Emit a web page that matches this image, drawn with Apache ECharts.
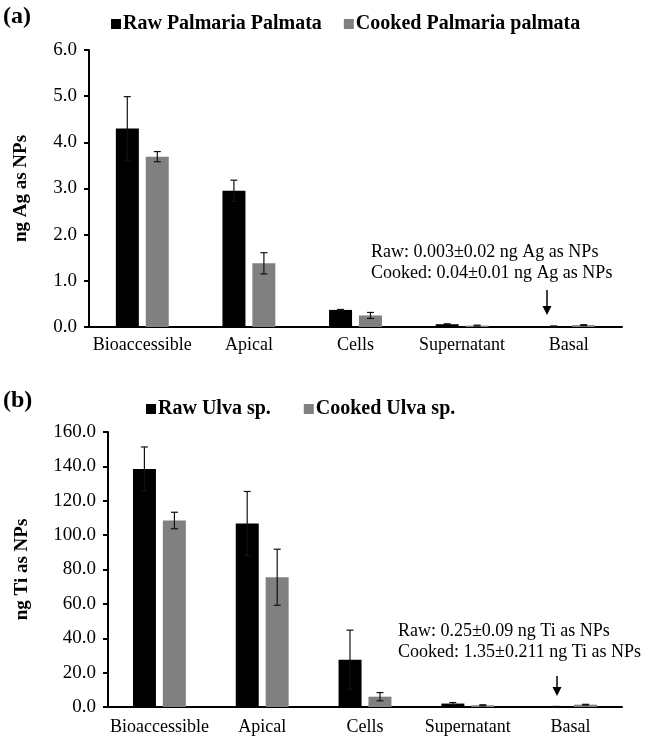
<!DOCTYPE html>
<html>
<head>
<meta charset="utf-8">
<script src="https://cdn.jsdelivr.net/npm/echarts@6/dist/echarts.min.js"></script>
<style>
  html, body { margin: 0; padding: 0; background: #fff; }
  #chart { width: 649px; height: 740px; }
</style>
</head>
<body>
<div id="chart"></div>
<script>
// categories shared by both panels
const categories = ['Bioaccessible', 'Apical', 'Cells', 'Supernatant', 'Basal'];

// panel (a) - Ag NPs
const agRaw = [4.30, 2.95, 0.37, 0.06, 0.003];
const agRawErr = [0.69, 0.23, 0.01, 0.01, 0.02];
const agCooked = [3.69, 1.38, 0.25, 0.03, 0.04];
const agCookedErr = [0.11, 0.23, 0.065, 0.01, 0.01];
const agTicks = { min: 0, max: 6, interval: 1 };

// panel (b) - Ti NPs
const tiRaw = [138.5, 106.8, 27.5, 2.0, 0.25];
const tiRawErr = [12.8, 18.6, 17.2, 0.6, 0.09];
const tiCooked = [108.5, 75.5, 6.0, 1.0, 1.35];
const tiCookedErr = [4.8, 16.3, 2.4, 0.3, 0.211];
const tiTicks = { min: 0, max: 160, interval: 20 };

const FONT = '"Liberation Serif", "Times New Roman", serif';
const RAW = '#000000';
const COOKED = '#808080';
const BAR_W = 23;
const SHIFT = 15; // half of bar width + half gap

const chart = echarts.init(document.getElementById('chart'));

// error bars: data [index, value, err]
function errorSeries(name, vals, errs, axisIdx, offset) {
  return {
    name: name,
    type: 'custom',
    xAxisIndex: axisIdx,
    yAxisIndex: axisIdx,
    z: 5,
    silent: true,
    data: vals.map((v, i) => [i, v, errs[i]]),
    encode: { x: 0, y: 1 },
    renderItem: function (params, api) {
      const i = api.value(0);
      const v = api.value(1);
      const e = api.value(2);
      const top = api.coord([i, v + e]);
      const bot = api.coord([i, Math.max(0, v - e)]);
      const x = top[0] + offset;
      const st = { stroke: '#111', lineWidth: 1.2 };
      return {
        type: 'group',
        children: [
          { type: 'line', shape: { x1: x, y1: top[1], x2: x, y2: bot[1] }, style: st },
          { type: 'line', shape: { x1: x - 3.5, y1: top[1], x2: x + 3.5, y2: top[1] }, style: st },
          { type: 'line', shape: { x1: x - 3.5, y1: bot[1], x2: x + 3.5, y2: bot[1] }, style: st }
        ]
      };
    }
  };
}

function barSeries(name, vals, color, axisIdx) {
  return {
    name: name,
    type: 'bar',
    xAxisIndex: axisIdx,
    yAxisIndex: axisIdx,
    barWidth: BAR_W,
    barGap: '30%',
    itemStyle: { color: color },
    data: vals
  };
}

function xAx(gridIdx, margin) {
  return {
    type: 'category',
    gridIndex: gridIdx,
    data: categories,
    axisTick: { show: false },
    axisLine: { lineStyle: { color: '#000', width: 2 } },
    axisLabel: { color: '#000', fontFamily: FONT, fontSize: 18, margin: margin, interval: 0 }
  };
}

function yAx(gridIdx, ticks, name, gap) {
  return {
    type: 'value',
    gridIndex: gridIdx,
    min: ticks.min,
    max: ticks.max,
    interval: ticks.interval,
    name: name,
    nameLocation: 'middle',
    nameGap: gap,
    nameTextStyle: { color: '#000', fontFamily: FONT, fontSize: 19, fontWeight: 'bold' },
    splitLine: { show: false },
    axisLine: { show: true, lineStyle: { color: '#000', width: 2 } },
    axisTick: { show: true, length: 5, lineStyle: { color: '#000', width: 2 } },
    axisLabel: {
      color: '#000', fontFamily: FONT, fontSize: 19, margin: 12,
      formatter: v => v.toFixed(1)
    }
  };
}

function legend(top, left, names, gap) {
  return {
    top: top,
    left: left,
    itemWidth: 10,
    itemHeight: 10,
    itemGap: gap,
    icon: 'rect',
    data: names,
    textStyle: { color: '#000', fontFamily: FONT, fontSize: 20, fontWeight: 'bold', padding: [0, 0, 0, -3] }
  };
}

function note(x, y, text) {
  return {
    type: 'text', left: x, top: y,
    style: { text: text, font: '18px ' + FONT, fill: '#000' }
  };
}

function arrow(x, y1, y2) {
  return [
    { type: 'line', shape: { x1: x, y1: y1, x2: x, y2: y2 - 8 }, style: { stroke: '#000', lineWidth: 1.5 } },
    { type: 'polygon', shape: { points: [[x - 4.5, y2 - 9], [x + 4.5, y2 - 9], [x, y2]] }, style: { fill: '#000' } }
  ];
}

const option = {
  animation: false,
  backgroundColor: '#fff',
  grid: [
    { left: 89, top: 50, width: 533, height: 277 },
    { left: 108, top: 432, width: 514, height: 275 }
  ],
  legend: [
    legend(9, 106, ['Raw Palmaria Palmata', 'Cooked Palmaria palmata'], 22),
    legend(394, 141, ['Raw Ulva sp.', 'Cooked Ulva sp.'], 33)
  ],
  xAxis: [xAx(0, 9), xAx(1, 11)],
  yAxis: [yAx(0, agTicks, 'ng Ag as NPs', 58), yAx(1, tiTicks, 'ng Ti as NPs', 76)],
  series: [
    barSeries('Raw Palmaria Palmata', agRaw, RAW, 0),
    barSeries('Cooked Palmaria palmata', agCooked, COOKED, 0),
    errorSeries('agRawErr', agRaw, agRawErr, 0, -SHIFT),
    errorSeries('agCookedErr', agCooked, agCookedErr, 0, SHIFT),
    barSeries('Raw Ulva sp.', tiRaw, RAW, 1),
    barSeries('Cooked Ulva sp.', tiCooked, COOKED, 1),
    errorSeries('tiRawErr', tiRaw, tiRawErr, 1, -SHIFT),
    errorSeries('tiCookedErr', tiCooked, tiCookedErr, 1, SHIFT)
  ],
  graphic: [
    { type: 'text', left: 3, top: 5, style: { text: '(a)', font: 'bold 24px ' + FONT, fill: '#000' } },
    { type: 'text', left: 3, top: 389, style: { text: '(b)', font: 'bold 24px ' + FONT, fill: '#000' } },
    note(371, 243, 'Raw: 0.003\u00b10.02 ng Ag as NPs'),
    note(371, 264, 'Cooked: 0.04\u00b10.01 ng Ag as NPs'),
    note(398, 622, 'Raw: 0.25\u00b10.09 ng Ti as NPs'),
    note(398, 643, 'Cooked: 1.35\u00b10.211 ng Ti as NPs'),
    ...arrow(547, 290, 315),
    ...arrow(557, 676, 696)
  ]
};

chart.setOption(option);
</script>
</body>
</html>
